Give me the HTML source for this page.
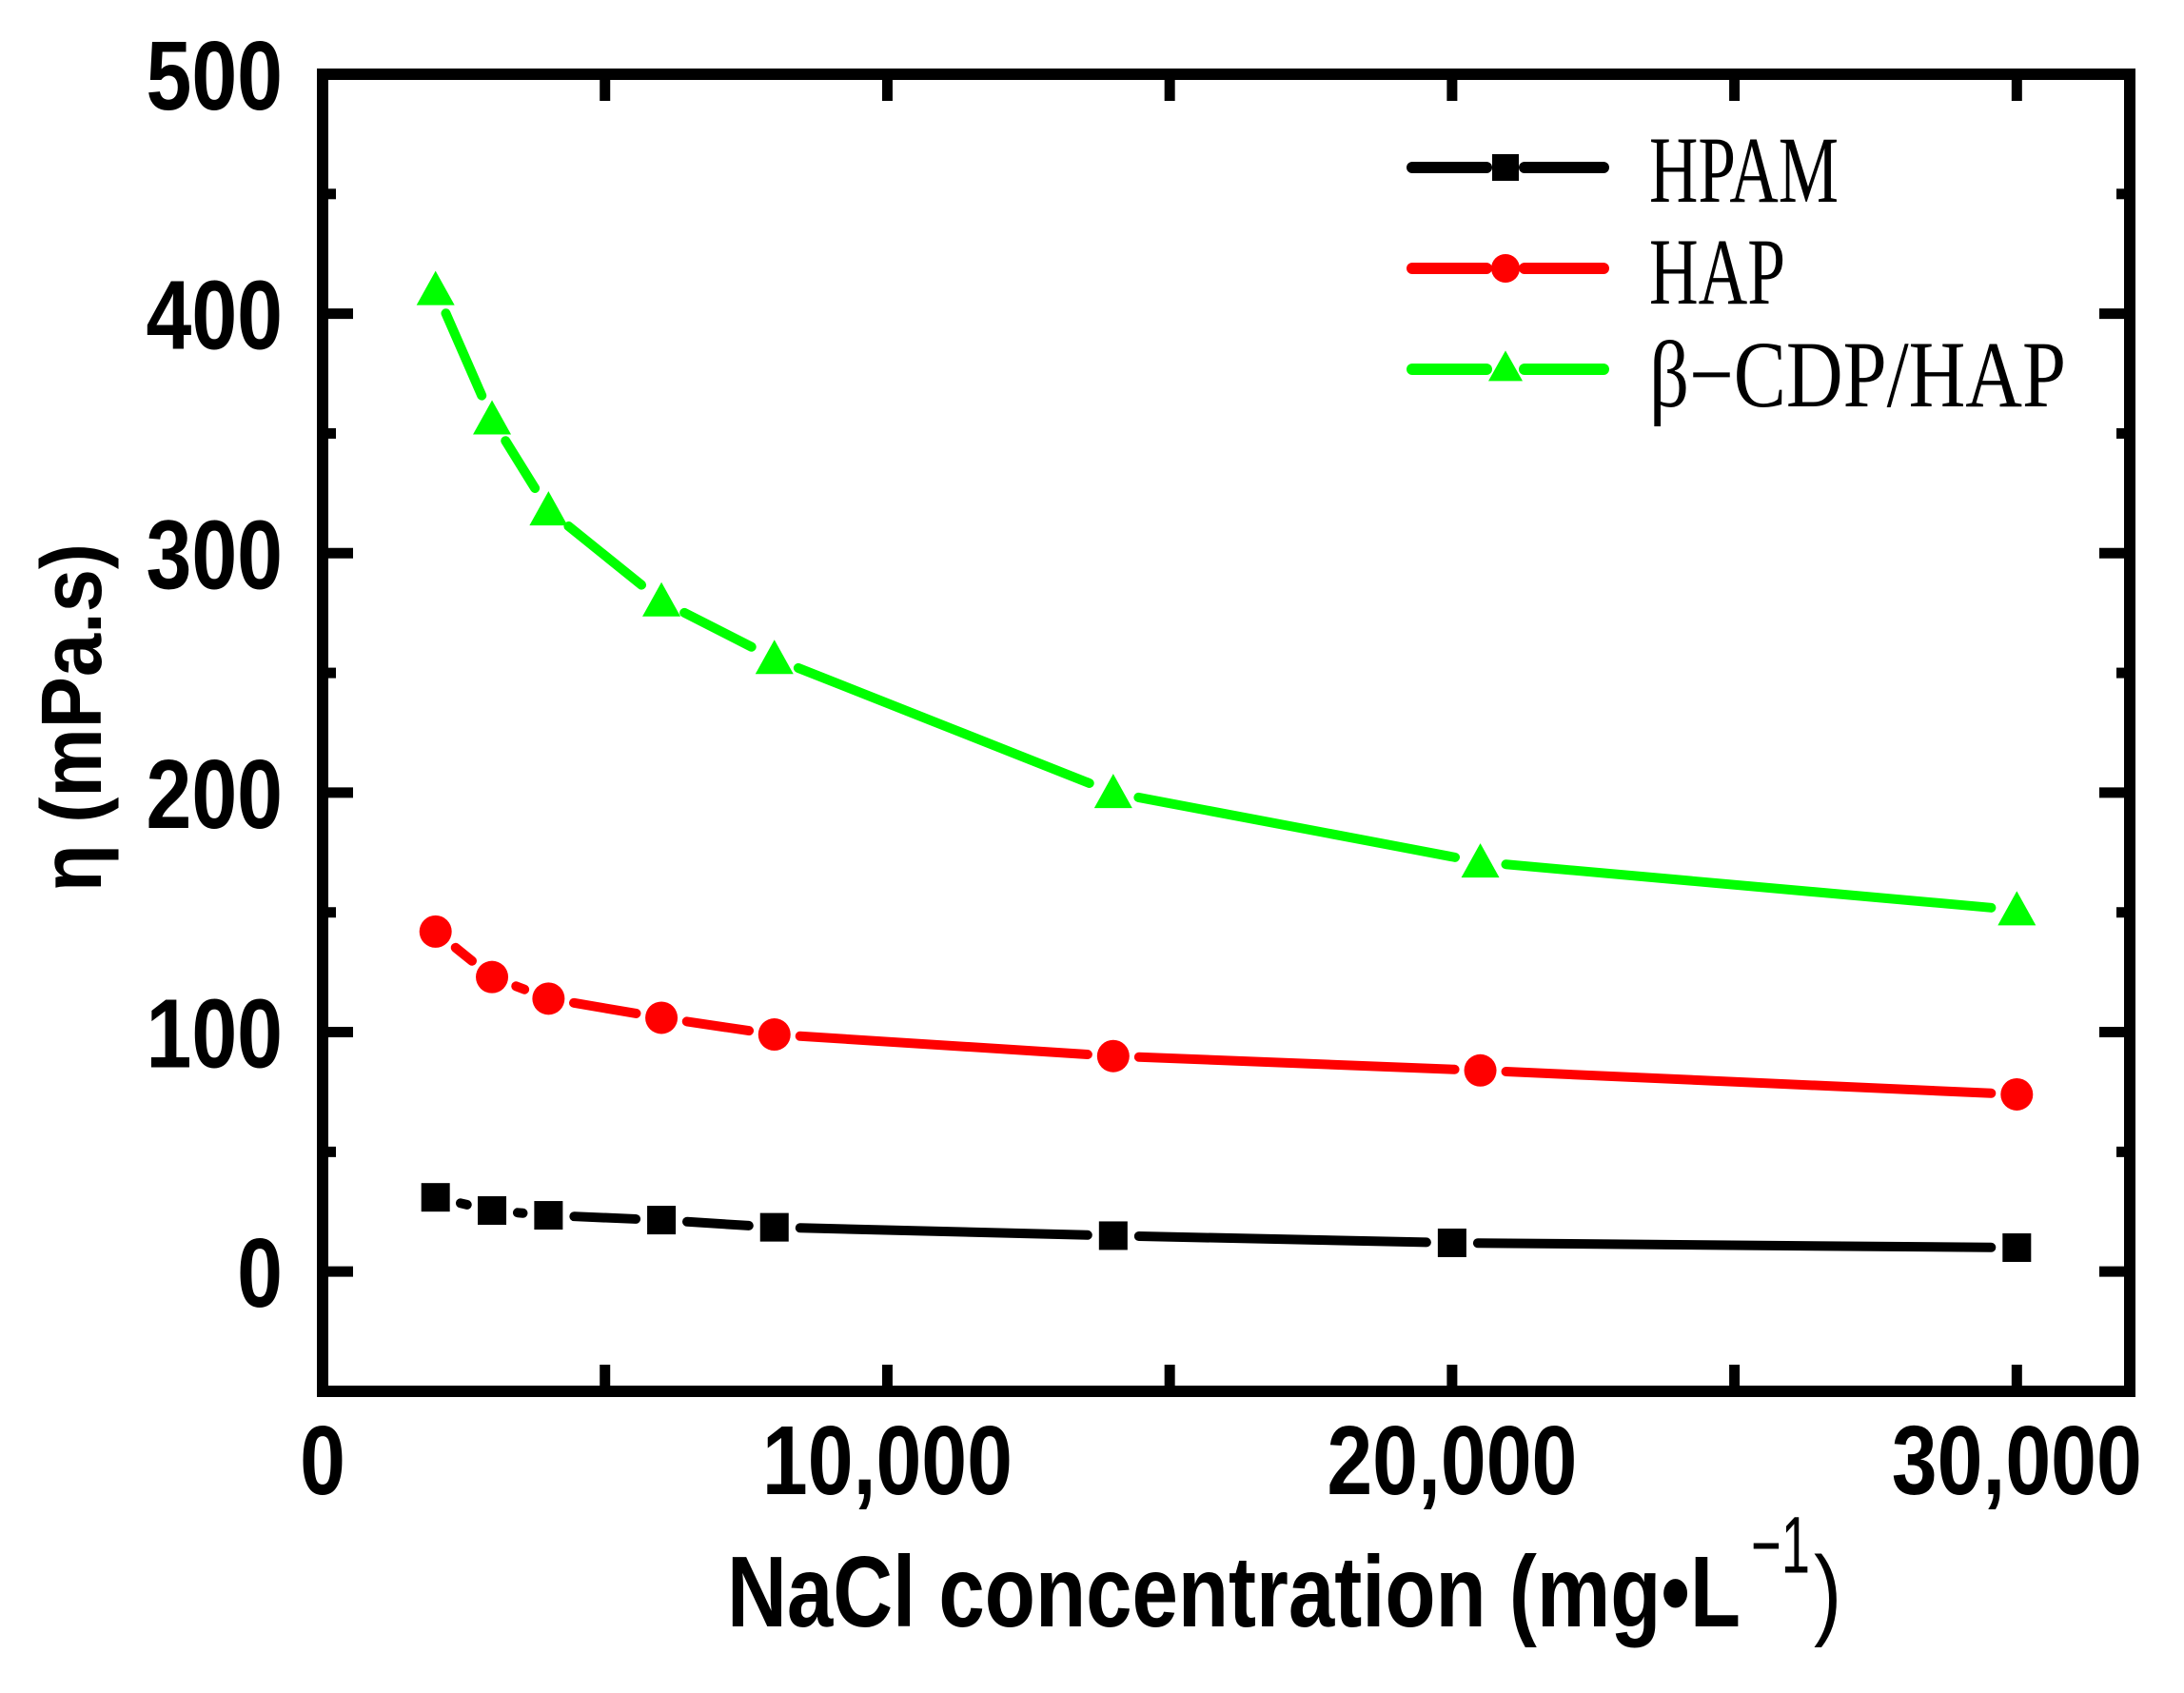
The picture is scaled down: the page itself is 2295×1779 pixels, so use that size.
<!DOCTYPE html>
<html><head><meta charset="utf-8"><style>
html,body{margin:0;padding:0;background:#fff;}
svg{display:block;}
</style></head><body>
<svg id="chart" width="2295" height="1779" viewBox="0 0 2295 1779" xmlns="http://www.w3.org/2000/svg">
<rect width="2295" height="1779" fill="#fff"/>
<g id="ticks"></g>
<g id="series"></g>
<rect x="339" y="78" width="1899" height="1384" fill="none" stroke="#000" stroke-width="12"/>
<g id="labels" font-family="Liberation Sans, Arial, sans-serif" font-weight="bold"></g>
<g transform="translate(0,1709) scale(1,1.2) translate(0,-1709)">
<text x="764" y="1709" font-family="Liberation Sans, Arial, sans-serif" font-weight="bold" font-size="88" textLength="1065" lengthAdjust="spacingAndGlyphs">NaCl concentration (mg•L</text>
<text x="1840" y="1662" font-family="Liberation Sans, Arial, sans-serif" font-size="70" textLength="62" lengthAdjust="spacingAndGlyphs">−1</text>
<text x="1906" y="1709" font-family="Liberation Sans, Arial, sans-serif" font-size="88">)</text>
</g>
<text transform="translate(106,754) rotate(-90)" text-anchor="middle" font-family="Liberation Sans, Arial, sans-serif" font-weight="bold" font-size="90" textLength="366" lengthAdjust="spacingAndGlyphs">η (mPa.s)</text>
<g id="legend"></g>
</svg>
<script>
const xValuesA = [2000, 3000, 4000, 6000, 8000, 14000, 20000, 30000];
const xValuesB = [2000, 3000, 4000, 6000, 8000, 14000, 20500, 30000];
const hpamValues = [31, 25.5, 23.5, 21.5, 18.5, 15, 12, 10];
const hapValues = [142, 123, 114, 106, 99, 90, 84, 74];
const cdpValues = [410, 356, 318, 280, 256, 200, 171, 151];
const seriesNames = ["HPAM", "HAP", "β−CDP/HAP"];
const xTickLabels = ["0", "10,000", "20,000", "30,000"];
const xTickValues = [0, 10000, 20000, 30000];
const yTickLabels = ["0", "100", "200", "300", "400", "500"];
const yTickValues = [0, 100, 200, 300, 400, 500];

const NS = "http://www.w3.org/2000/svg";
const X0 = 339, X1 = 2238, XMIN = 0, XMAX = 32000;
const Y0 = 1462, Y1 = 78, YMIN = -50, YMAX = 500;
function sx(v){ return X0 + (v - XMIN) / (XMAX - XMIN) * (X1 - X0); }
function sy(v){ return Y0 - (v - YMIN) / (YMAX - YMIN) * (Y0 - Y1); }
function mk(tag, attrs, parent){
  const e = document.createElementNS(NS, tag);
  for (const k in attrs) e.setAttribute(k, attrs[k]);
  parent.appendChild(e); return e;
}
const ticks = document.getElementById("ticks");
const labels = document.getElementById("labels");
for (let v = 5000; v < XMAX; v += 5000) {
  const len = 28;
  const b = mk("line", {x1: sx(v), x2: sx(v), y1: Y0, y2: Y0 - len, stroke: "#000", "stroke-width": 11}, ticks);
  
  
  const t = mk("line", {x1: sx(v), x2: sx(v), y1: Y1, y2: Y1 + len, stroke: "#000", "stroke-width": 11}, ticks);
  
  
}
for (let v = 0; v < YMAX; v += 50) {
  const len = (v % 100 === 0) ? 32 : 14;
  const l = mk("line", {x1: X0, x2: X0 + len, y1: sy(v), y2: sy(v), stroke: "#000", "stroke-width": 11}, ticks);
  
  
  const r = mk("line", {x1: X1, x2: X1 - len, y1: sy(v), y2: sy(v), stroke: "#000", "stroke-width": 11}, ticks);
  
  
}
xTickLabels.forEach((s, i) => {
  const by = 1570;
  const t = mk("text", {x: sx(xTickValues[i]), y: by, "text-anchor": "middle", "font-size": 86, transform: `translate(0,${by}) scale(1,1.2) translate(0,${-by})`}, labels);
  t.textContent = s;
  
  
});
yTickLabels.forEach((s, i) => {
  const by = sy(yTickValues[i]) + 37;
  const t = mk("text", {x: 297, y: by, "text-anchor": "end", "font-size": 86, transform: `translate(0,${by}) scale(1,1.2) translate(0,${-by})`}, labels);
  t.textContent = s;
  
  
});

const colors = ["#000000", "#ff0000", "#00ff00"];
function marker(kind, cx, cy, color, parent, w, h){
  let e;
  if (kind === 0) e = mk("rect", {x: cx - w/2, y: cy - h/2, width: w, height: h, fill: color}, parent);
  else if (kind === 1) e = mk("ellipse", {cx: cx, cy: cy, rx: w/2, ry: h/2, fill: color}, parent);
  else e = mk("polygon", {points: `${cx},${cy - h*0.55} ${cx + w/2},${cy + h*0.45} ${cx - w/2},${cy + h*0.45}`, fill: color}, parent);
  return e;
}
const seriesG = document.getElementById("series");
const allData = [[xValuesA, hpamValues], [xValuesB, hapValues], [xValuesB, cdpValues]];
allData.forEach((d, si) => {
  const g = mk("g", {}, seriesG);
  
  
  const xs = d[0], ys = d[1];
  for (let i = 0; i < xs.length - 1; i++) {
    const ax = sx(xs[i]), ay = sy(ys[i]), bx = sx(xs[i+1]), by = sy(ys[i+1]);
    const dx = bx - ax, dy = by - ay, L = Math.hypot(dx, dy);
    const gap = 27;
    if (L <= 2 * gap) continue;
    const ux = dx / L, uy = dy / L;
    const seg = mk("line", {x1: ax + ux*gap, y1: ay + uy*gap, x2: bx - ux*gap, y2: by - uy*gap, stroke: colors[si], "stroke-width": 10, "stroke-linecap": "round"}, g);
    
    
  }
  for (let i = 0; i < xs.length; i++) {
    const w = si === 0 ? 30 : (si === 1 ? 34 : 40);
    const h = si === 0 ? 30 : (si === 1 ? 34 : 36);
    const m = marker(si, sx(xs[i]), sy(ys[i]), colors[si], g, w, h);
    
    
  }
});

const legend = document.getElementById("legend");
const legY = [176, 282, 388];
const legBase = [212, 319, 427];
const legTextW = [199, 143, 438];
seriesNames.forEach((name, i) => {
  const g = mk("g", {}, legend);
  
  
  mk("line", {x1: 1484, x2: 1562, y1: legY[i], y2: legY[i], stroke: colors[i], "stroke-width": 12, "stroke-linecap": "round"}, g);
  mk("line", {x1: 1602, x2: 1685, y1: legY[i], y2: legY[i], stroke: colors[i], "stroke-width": 12, "stroke-linecap": "round"}, g);
  const w = i === 0 ? 28 : (i === 1 ? 30 : 36);
  const h = i === 0 ? 28 : (i === 1 ? 30 : 32);
  marker(i, 1582, legY[i] + (i === 2 ? -2 : 0), colors[i], g, w, h);
  const t = mk("text", {x: 1733, y: legBase[i], "font-family": "Liberation Serif, serif", "font-size": 100, textLength: legTextW[i], lengthAdjust: "spacingAndGlyphs"}, g);
  t.textContent = name;
  
  
});
</script>
</body></html>
